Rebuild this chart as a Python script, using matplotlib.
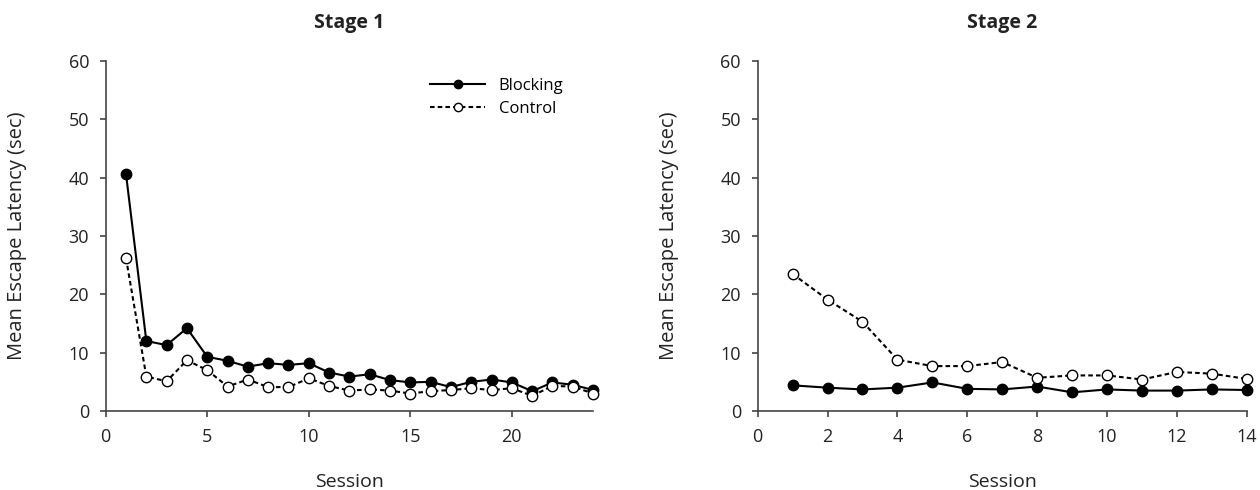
import matplotlib
matplotlib.use("Agg")
import matplotlib.pyplot as plt

plt.rcParams['font.family'] = ['Open Sans', 'DejaVu Sans']

# Stage 1
s1_sessions = list(range(1, 25))
s1_blocking = [40.6, 12.0, 11.3, 14.2, 9.3, 8.6, 7.6, 8.2, 7.9, 8.2, 6.6, 5.9,
               6.3, 5.3, 4.9, 5.0, 4.1, 5.0, 5.4, 4.9, 3.4, 4.9, 4.5, 3.6]
s1_control = [26.2, 5.9, 5.1, 8.7, 7.0, 4.2, 5.4, 4.1, 4.1, 5.6, 4.3, 3.5,
              3.7, 3.5, 3.0, 3.4, 3.6, 3.9, 3.6, 3.9, 2.6, 4.3, 4.2, 3.0]

# Stage 2
s2_sessions = list(range(1, 15))
s2_blocking = [4.4, 4.0, 3.7, 4.0, 4.9, 3.8, 3.7, 4.2, 3.2, 3.7, 3.5, 3.5, 3.7, 3.6]
s2_control = [23.5, 19.1, 15.3, 8.8, 7.7, 7.7, 8.4, 5.7, 6.1, 6.1, 5.4, 6.7, 6.4, 5.5]

s1_ticks = [0, 5, 10, 15, 20]
s2_ticks = [0, 2, 4, 6, 8, 10, 12, 14]
y_ticks = [0, 10, 20, 30, 40, 50, 60]


def style_axes(ax, title, xlim, xticks):
    ax.set_xlim(*xlim)
    ax.set_ylim(0, 60)
    ax.set_xticks(xticks)
    ax.set_yticks(y_ticks)
    for side in ["top", "right"]:
        ax.spines[side].set_visible(False)
    for side in ["left", "bottom"]:
        ax.spines[side].set_color("#444444")
        ax.spines[side].set_linewidth(1.2)
    ax.tick_params(direction="out", length=4, width=1.2, color="#444444",
                   labelsize=13, pad=8, labelcolor="#222222")
    ax.set_xlabel("Session", fontsize=14, labelpad=20, color="#222222")
    ax.set_ylabel("Mean Escape Latency (sec)", fontsize=14.5, labelpad=30, color="#222222")
    ax.set_title(title, fontsize=14, fontweight="bold", pad=24, color="#222222")


fig = plt.figure(figsize=(12.6, 4.9), dpi=100)
ax1 = fig.add_axes([0.0839, 0.1612, 0.3868, 0.7143])
ax2 = fig.add_axes([0.6013, 0.1612, 0.3883, 0.7143])

line_kw = dict(color="black", linewidth=1.5, markersize=7.5, clip_on=False)
dash = (0, (2.2, 1.5))

ax1.plot(s1_sessions, s1_blocking, marker="o", linestyle="-",
         markerfacecolor="black", label="Blocking", **line_kw)
ax1.plot(s1_sessions, s1_control, marker="o", linestyle=dash,
         markerfacecolor="white", label="Control", **line_kw)
style_axes(ax1, "Stage 1", (0, 24), s1_ticks)
ax1.legend(loc="upper right", bbox_to_anchor=(0.97, 0.995), frameon=False,
           fontsize=12, handlelength=3.3, handletextpad=0.8, labelspacing=0.45,
           markerscale=0.8)

ax2.plot(s2_sessions, s2_blocking, marker="o", linestyle="-",
         markerfacecolor="black", **line_kw)
ax2.plot(s2_sessions, s2_control, marker="o", linestyle=dash,
         markerfacecolor="white", **line_kw)
style_axes(ax2, "Stage 2", (0, 14), s2_ticks)

fig.savefig("out.png", dpi=100)
